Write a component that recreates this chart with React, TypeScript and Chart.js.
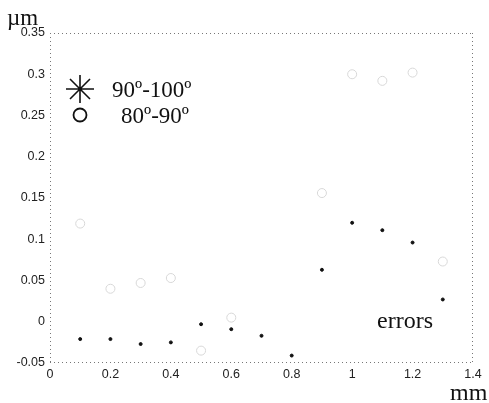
import React, { useEffect, useRef } from "react";
import { Chart, registerables } from "chart.js";

Chart.register(...registerables);

const xTickValues = [0, 0.2, 0.4, 0.6, 0.8, 1.0, 1.2, 1.4];
const xTickLabels = ["0", "0.2", "0.4", "0.6", "0.8", "1", "1.2", "1.4"];
const yTickValues = [-0.05, 0, 0.05, 0.1, 0.15, 0.2, 0.25, 0.3, 0.35];
const yTickLabels = ["-0.05", "0", "0.05", "0.1", "0.15", "0.2", "0.25", "0.3", "0.35"];

const starX = [0.1, 0.2, 0.3, 0.4, 0.5, 0.6, 0.7, 0.8, 0.9, 1.0, 1.1, 1.2, 1.3];
const starY = [-0.021, -0.021, -0.027, -0.025, -0.003, -0.009, -0.017, -0.041, 0.063, 0.12, 0.111, 0.096, 0.027];

const circleX = [0.1, 0.2, 0.3, 0.4, 0.5, 0.6, 0.9, 1.0, 1.1, 1.2, 1.3];
const circleY = [0.119, 0.04, 0.047, 0.053, -0.035, 0.005, 0.156, 0.3, 0.292, 0.302, 0.073];

const legendLabels = ["90º-100º", "80º-90º"];
const yUnit = "µm";
const xUnit = "mm";
const note = "errors";

const overlay = {
  id: "overlay",
  afterDraw(chart: any) {
    const ctx = chart.ctx;
    const a = chart.chartArea;
    ctx.save();
    // frame (dotted)
    ctx.strokeStyle = "#777";
    ctx.lineWidth = 1;
    ctx.setLineDash([1, 3]);
    ctx.beginPath();
    ctx.moveTo(a.left, a.top + 0.5);
    ctx.lineTo(a.right, a.top + 0.5);
    ctx.moveTo(a.right - 0.5, a.top);
    ctx.lineTo(a.right - 0.5, a.bottom);
    ctx.moveTo(a.left, a.bottom - 0.5);
    ctx.lineTo(a.right, a.bottom - 0.5);
    ctx.moveTo(a.left + 0.5, a.top);
    ctx.lineTo(a.left + 0.5, a.bottom);
    ctx.stroke();
    ctx.setLineDash([]);

    // legend star
    ctx.strokeStyle = "#111";
    ctx.lineWidth = 1.6;
    const sx = 80, sy = 89, r = 14, d = 10;
    ctx.beginPath();
    ctx.moveTo(sx - r, sy); ctx.lineTo(sx + r, sy);
    ctx.moveTo(sx, sy - r); ctx.lineTo(sx, sy + r);
    ctx.moveTo(sx - d, sy - d); ctx.lineTo(sx + d, sy + d);
    ctx.moveTo(sx - d, sy + d); ctx.lineTo(sx + d, sy - d);
    ctx.stroke();
    // legend circle
    ctx.lineWidth = 1.8;
    ctx.beginPath();
    ctx.arc(80, 115, 6.5, 0, Math.PI * 2);
    ctx.stroke();

    ctx.fillStyle = "#111";
    ctx.textBaseline = "alphabetic";
    ctx.textAlign = "left";
    ctx.font = "23px 'Liberation Serif', 'DejaVu Serif', serif";
    ctx.fillText(legendLabels[0], 112, 97);
    ctx.fillText(legendLabels[1], 121, 123);

    ctx.font = "24px 'Liberation Serif', serif";
    ctx.fillText(note, 377, 328);
    ctx.fillText(xUnit, 450, 400);
    ctx.font = "23px 'Liberation Serif', serif";
    ctx.fillText(yUnit, 7, 25);
    ctx.restore();
  },
};

export default function App() {
  const ref = useRef<HTMLCanvasElement | null>(null);
  useEffect(() => {
    if (!ref.current) return;
    const chart = new Chart(ref.current, {
      type: "scatter",
      data: {
        datasets: [
          {
            label: legendLabels[0],
            data: starX.map((x, i) => ({ x, y: starY[i] })),
            pointStyle: "circle",
            pointRadius: 1.5,
            backgroundColor: "#111",
            borderColor: "#111",
            borderWidth: 1,
          },
          {
            label: legendLabels[1],
            data: circleX.map((x, i) => ({ x, y: circleY[i] })),
            pointStyle: "circle",
            pointRadius: 4.5,
            backgroundColor: "rgba(0,0,0,0)",
            borderColor: "#d8d8d8",
            borderWidth: 1,
          },
        ],
      },
      options: {
        responsive: false,
        animation: false,
        layout: { padding: { left: 0, top: 33, right: 16, bottom: 0 } },
        plugins: { legend: { display: false }, tooltip: { enabled: false } },
        scales: {
          x: {
            type: "linear",
            min: 0,
            max: 1.4,
            afterBuildTicks: (s: any) => {
              s.ticks = xTickValues.map((v) => ({ value: v }));
            },
            afterFit: (s: any) => {
              s.height = 40;
            },
            grid: { display: false, drawTicks: false },
            border: { display: false },
            ticks: {
              padding: 4,
              color: "#222",
              font: { family: "'Liberation Sans', Arial, sans-serif", size: 12.5 },
              callback: (_v: any, i: number) => xTickLabels[i],
              maxRotation: 0,
              autoSkip: false,
            },
          },
          y: {
            type: "linear",
            min: -0.05,
            max: 0.35,
            afterBuildTicks: (s: any) => {
              s.ticks = yTickValues.map((v) => ({ value: v }));
            },
            afterFit: (s: any) => {
              s.width = 50;
            },
            grid: { display: false, drawTicks: false },
            border: { display: false },
            ticks: {
              padding: 5,
              color: "#222",
              font: { family: "'Liberation Sans', Arial, sans-serif", size: 12.5 },
              callback: (_v: any, i: number) => yTickLabels[i],
              autoSkip: false,
            },
          },
        },
      },
      plugins: [overlay],
    });
    return () => chart.destroy();
  }, []);
  return (
    <div style={{ position: "absolute", left: 0, top: 0, width: 489, height: 403, background: "#fff" }}>
      <canvas ref={ref} width={489} height={403} style={{ display: "block" }} />
    </div>
  );
}
